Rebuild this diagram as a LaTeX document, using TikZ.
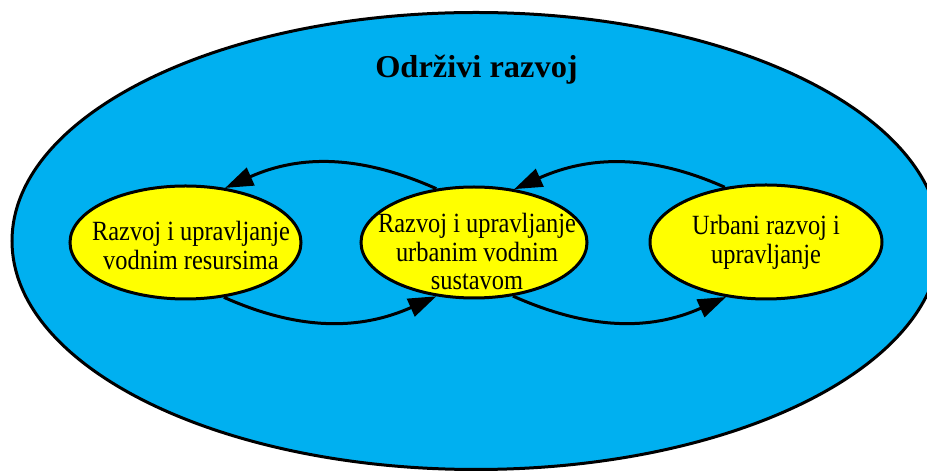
\documentclass[tikz,border=0pt]{standalone}
\usepackage{fontspec}
\setmainfont{Liberation Serif}
\usetikzlibrary{shapes.geometric,arrows.meta}
\definecolor{skyb}{HTML}{00B0F0}
\definecolor{yel}{HTML}{FFFF00}
\begin{document}
\begin{tikzpicture}[x=1pt,y=1pt,
  oval/.style={ellipse, draw=black, line width=3pt, fill=yel, inner sep=0pt},
  lbl/.style={font=\fontsize{24.4}{25}\selectfont, align=center, anchor=base, transform shape, yscale=1.14},
  link/.style={line width=3pt, -{Triangle[length=28pt,width=19pt]}}]
\useasboundingbox (0,0) rectangle (927,471);
\begin{scope}
\clip (0,0) rectangle (927,471);
\node[ellipse, draw=black, line width=3pt, fill=skyb, minimum width=928pt, minimum height=457pt, inner sep=0pt] (big) at (476,230) {};
\end{scope}
\node[font=\bfseries\fontsize{30}{31}\selectfont, anchor=base, transform shape, xscale=1.08, yscale=1.06] (title) at (476.5,393) {Održivi razvoj};
\node[oval, minimum width=231pt, minimum height=113pt] (L) at (185.5,228.5) {};
\node[oval, minimum width=226pt, minimum height=111pt] (M) at (474,228.5) {};
\node[oval, minimum width=232pt, minimum height=114pt] (R) at (766,229) {};
\node[lbl] (Lt) at (191,201.7) {Razvoj i upravljanje\\vodnim resursima};
\node[lbl] (Mt) at (477,181) {Razvoj i upravljanje\\urbanim vodnim\\sustavom};
\node[lbl] (Rt) at (766,207.7) {Urbani razvoj i\\upravljanje};
\draw[link] (M.125) to[out=156,in=24] (L.54);
\draw[link] (L.-55) to[out=-24,in=204] (M.235);
\draw[link] (R.127) to[out=156,in=24] (M.53);
\draw[link] (M.-54) to[out=-24,in=204] (R.234);
\end{tikzpicture}
\end{document}
